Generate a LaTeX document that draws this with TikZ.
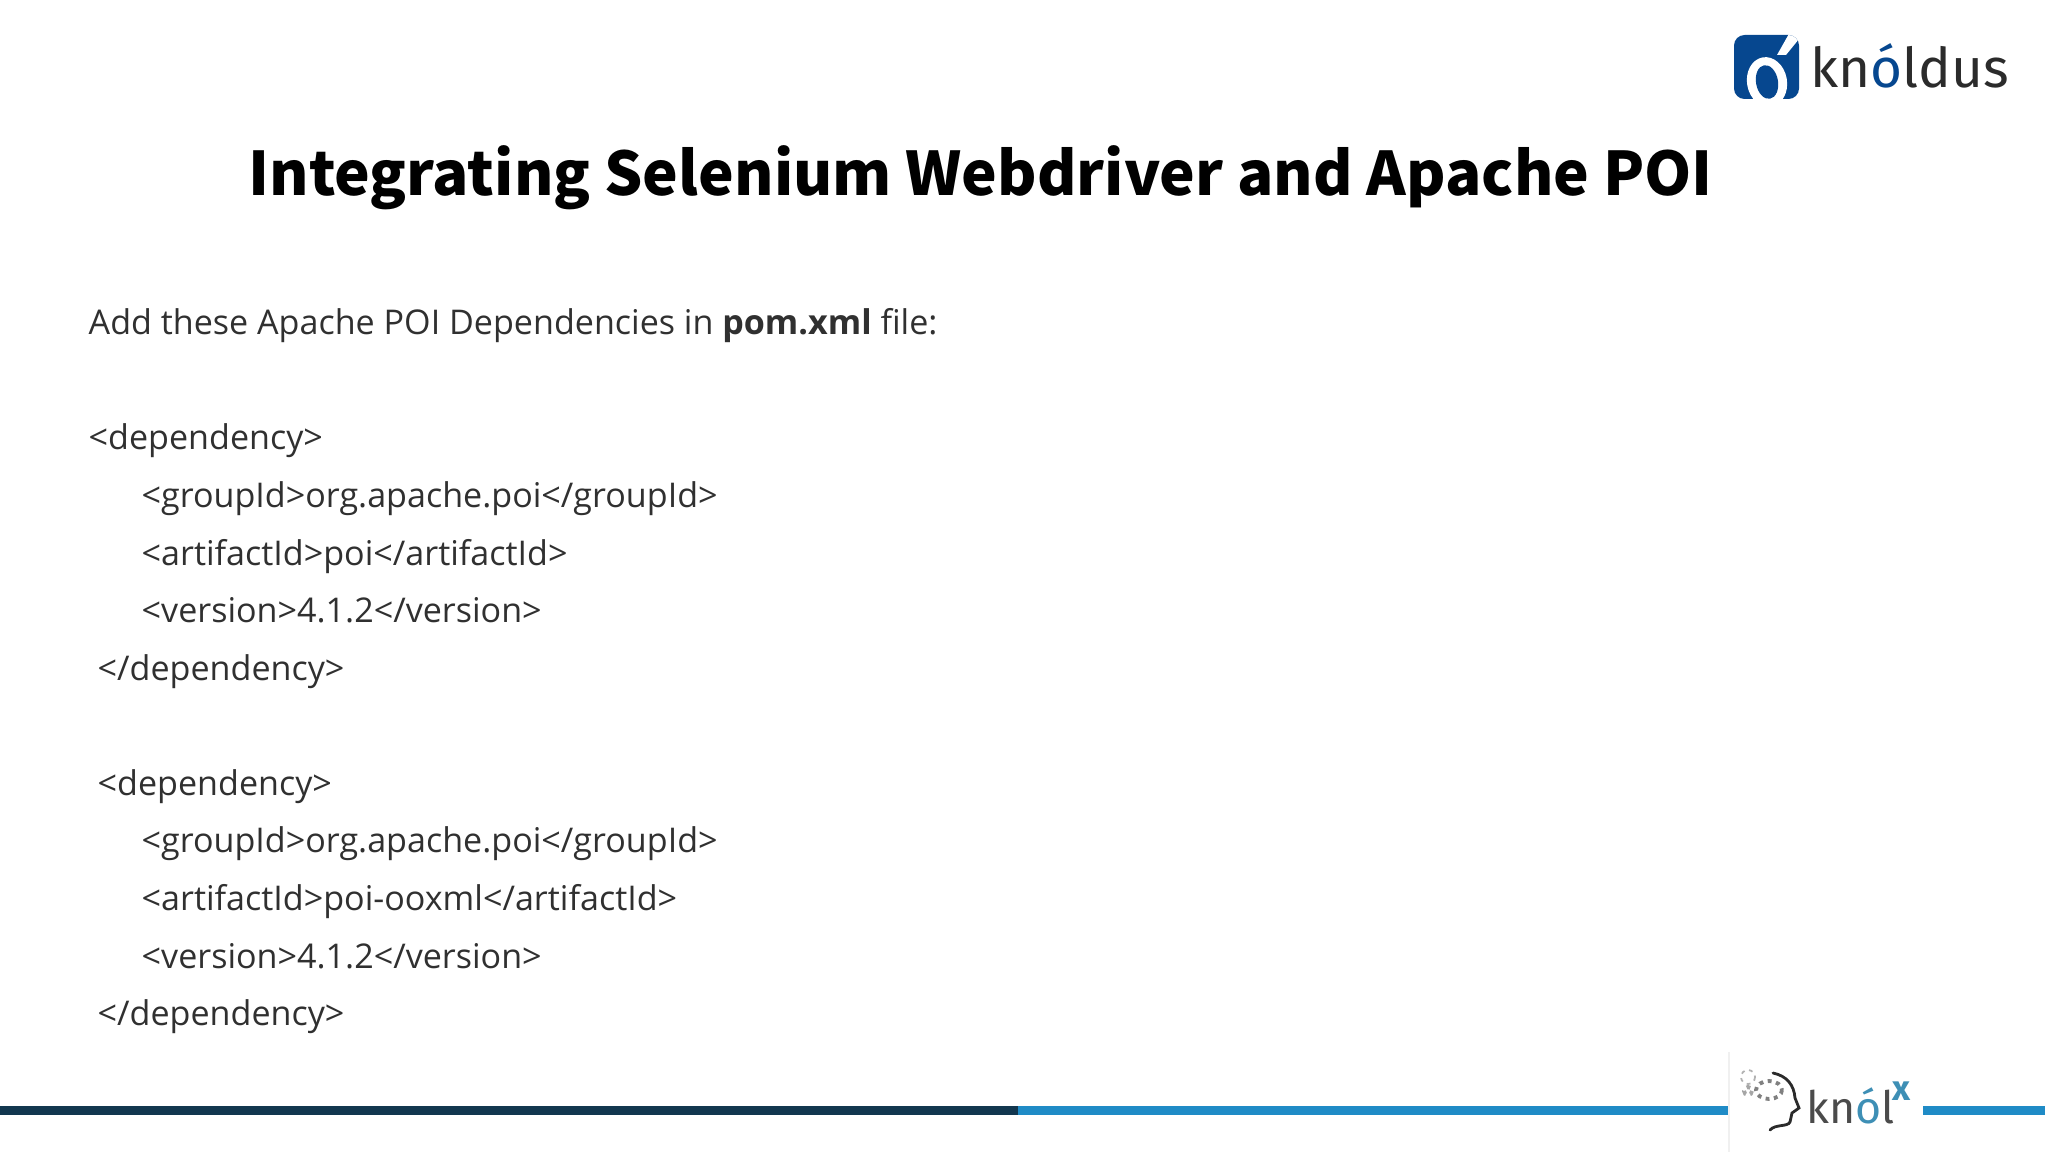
\documentclass[tikz,border=0pt]{standalone}
\usepackage{fontspec}
\setmainfont{Open Sans}
\newfontfamily\titlefont{Noto Sans CJK SC}
\newfontfamily\logofont{Fira Sans}
\usetikzlibrary{positioning}
\definecolor{bodytext}{HTML}{303030}
\definecolor{barDark}{HTML}{12374F}
\definecolor{barBlue}{HTML}{1F8BC6}
\definecolor{logoBlue}{HTML}{06478F}
\definecolor{logoGrey}{HTML}{2B2B2B}
\definecolor{knolBlue}{HTML}{3E8FB5}
\tikzset{
	body/.style={anchor=base west, inner sep=0pt, text=bodytext, font=\fontsize{9.69}{12}\selectfont},
	head/.style={draw=#1, line width=1.1pt, dash pattern=on 1.1pt off 1.3pt}
	}

\begin{document}
\begin{tikzpicture}[x=0.01cm, y=-0.01cm]

	\useasboundingbox (0,0) rectangle (2048,1152);

	% title
	\node[anchor=base west, inner sep=0pt, font=\titlefont\bfseries\fontsize{17.1}{24}\selectfont] (title) at (248,195.5) {Integrating Selenium Webdriver and Apache POI};

	% first line
	\node[body] (intro) at (88,334.5) {Add these Apache POI Dependencies in \textbf{pom.xml} file:};

	% first dependency
	\node[body] (depopen) at (88,449.5) {<dependency>};
	\node[body] (groupa) at (141,507.5) {<groupId>org.apache.poi</groupId>};
	\node[body] (artifacta) at (141,565) {<artifactId>poi</artifactId>};
	\node[body] (versiona) at (141,622.5) {<version>4.1.2</version>};
	\node[body] (depclose) at (97,680.5) {</dependency>};

	% second dependency
	\node[body] (depopenb) at (97,795.5) {<dependency>};
	\node[body] (groupb) at (141,852.5) {<groupId>org.apache.poi</groupId>};
	\node[body] (artifactb) at (141,910.5) {<artifactId>poi-ooxml</artifactId>};
	\node[body] (versionb) at (141,968.5) {<version>4.1.2</version>};
	\node[body] (depcloseb) at (97,1025.5) {</dependency>};

	% bottom bar
	\fill[barDark] (0,1106) rectangle (1018,1115);
	\fill[barBlue] (1018,1106) rectangle (1729,1115);
	\fill[barBlue] (1923,1106) rectangle (2045,1115);
	\draw[gray!12, line width=0.3pt] (1729,1052) -- (1729,1152);

	% knoldus logo
	\fill[logoBlue, rounded corners=3pt] (1734,35) rectangle (1799,99);
	\begin{scope}
		\clip[rounded corners=3pt] (1734,35) rectangle (1799,99);
		\fill[white, rotate around={10:(1767,82)}] (1767,82) ellipse (20 and 25);
		\fill[logoBlue, rotate around={10:(1767,82)}] (1767,82) ellipse (11 and 17);
		\fill[white] (1777,55) -- (1786,55) -- (1799,39) -- (1799,32) -- (1790,32) -- cycle;
	\end{scope}
	\node[anchor=base west, inner sep=0pt, text=logoGrey, font=\logofont\fontsize{15.6}{18}\selectfont] (knoldus) at (1810,88) {kn\textcolor{logoBlue}{ó}ldus};

	% knolx logo
	\draw[logoGrey, line width=0.8pt, line cap=round] (1773,1073) .. controls (1787,1076) and (1794,1085) .. (1795,1098) -- (1799,1108) -- (1792,1113) -- (1790,1122) .. controls (1788,1127) and (1775,1124) .. (1770,1130);
	\draw[head=gray!60, line width=0.5pt] (1748,1077) circle (7);
	\draw[head=gray!70] (1748,1091) circle (4);
	\draw[head=gray] (1769,1090) ellipse (13 and 9);
	\node[anchor=base west, inner sep=0pt, text=logoGrey!85, font=\logofont\fontsize{12.7}{15}\selectfont] (knol) at (1806,1123) {kn\textcolor{knolBlue}{ó}l};
	\node[anchor=base west, inner sep=0pt, text=knolBlue, font=\logofont\bfseries\fontsize{10}{11}\selectfont] (knolx) at (1892,1100) {x};

\end{tikzpicture}
\end{document}
